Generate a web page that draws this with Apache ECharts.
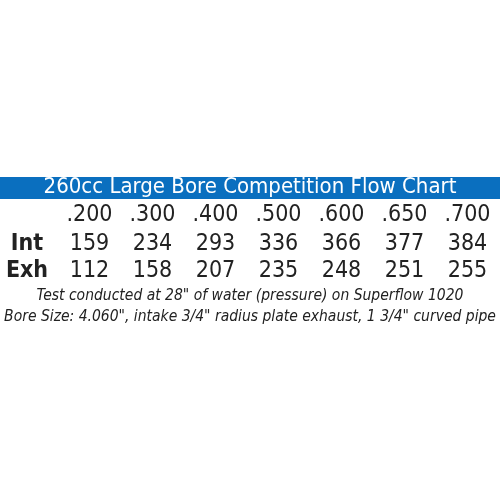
<!DOCTYPE html>
<html>
<head>
<meta charset="utf-8">
<script src="https://cdn.jsdelivr.net/npm/echarts@6/dist/echarts.min.js"></script>
<style>
html,body{margin:0;padding:0;background:#fff}
#chart{width:500px;height:500px}
</style>
</head>
<body>
<div id="chart"></div>
<script>
// lift values (inches) and flow numbers
const lifts=[".200",".300",".400",".500",".600",".650",".700"];
const rows=["Int","Exh"];
const intake=[159,234,293,336,366,377,384];
const exhaust=[112,158,207,235,248,251,255];
const titleText="260cc Large Bore Competition Flow Chart";
const notes=[
  'Test conducted at 28" of water (pressure) on Superflow 1020',
  'Bore Size: 4.060", intake 3/4" radius plate exhaust, 1 3/4" curved pipe'
];

const FONT='"DejaVu Sans Condensed","Liberation Sans Narrow",sans-serif';
const INK="#222";

const cells=[];
[intake,exhaust].forEach((vals,r)=>vals.forEach((v,c)=>cells.push([c,rows[r],v])));

const chart=echarts.init(document.querySelector("#chart"));
chart.setOption({
  animation:false,
  graphic:[{
    type:"rect",
    left:0,top:177,
    shape:{width:500,height:22},
    style:{fill:"#0a6fbf"},
    z:0
  }],
  title:[{
    text:titleText,
    left:"center",top:176,
    padding:0,
    textStyle:{color:"#fff",fontFamily:FONT,fontSize:22,fontWeight:"normal"},
    z:5
  }].concat(notes.map((t,i)=>({
    text:t,
    left:"center",top:288+i*21,
    padding:0,
    textStyle:{color:INK,fontFamily:FONT,fontSize:15.5,fontStyle:"italic",fontWeight:"normal"}
  }))),
  grid:{left:58,right:1,top:230,height:55},
  xAxis:{
    type:"category",
    data:lifts,
    position:"top",
    axisLine:{show:false},
    axisTick:{show:false},
    splitLine:{show:false},
    axisLabel:{interval:0,margin:3,color:INK,fontFamily:FONT,fontSize:23}
  },
  yAxis:{
    type:"category",
    data:rows,
    inverse:true,
    axisLine:{show:false},
    axisTick:{show:false},
    splitLine:{show:false},
    axisLabel:{interval:0,margin:31,align:"center",color:INK,fontFamily:FONT,fontSize:23,fontWeight:"bold"}
  },
  series:[{
    type:"scatter",
    data:cells,
    symbolSize:0,
    itemStyle:{opacity:1},
    label:{
      show:true,
      position:"inside",
      formatter:p=>p.value[2],
      color:INK,fontFamily:FONT,fontSize:23
    }
  }]
});
</script>
</body>
</html>
